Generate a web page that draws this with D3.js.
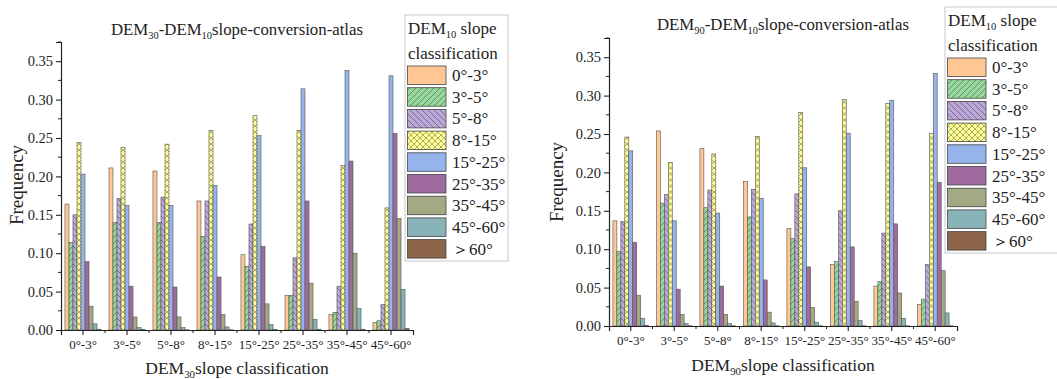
<!DOCTYPE html>
<html><head><meta charset="utf-8">
<script src="https://cdn.jsdelivr.net/npm/d3@7"></script>
<style>
body{margin:0;background:#fff;}
svg{display:block;font-family:"Liberation Serif","Times New Roman",serif;}
</style></head>
<body><svg id="c" width="1057" height="379"></svg>
<script>
const categories = ["0°-3°","3°-5°","5°-8°","8°-15°","15°-25°","25°-35°","35°-45°","45°-60°"];
const seriesNames = ["0°-3°","3°-5°","5°-8°","8°-15°","15°-25°","25°-35°","35°-45°","45°-60°","＞60°"];
const yTicks = [0,0.05,0.10,0.15,0.20,0.25,0.30,0.35];
// DEM30 -> DEM10 : rows = DEM30 class (category), cols = DEM10 class (series)
const dem30 = [
  [0.164,0.114,0.150,0.244,0.203,0.089,0.031,0.008,0.001],
  [0.211,0.140,0.171,0.238,0.162,0.057,0.017,0.003,0.0005],
  [0.207,0.140,0.173,0.242,0.162,0.056,0.017,0.003,0.0003],
  [0.168,0.122,0.168,0.260,0.188,0.069,0.020,0.004,0.0003],
  [0.098,0.083,0.138,0.279,0.253,0.109,0.034,0.007,0.0005],
  [0.045,0.045,0.094,0.260,0.314,0.168,0.061,0.014,0.001],
  [0.020,0.023,0.057,0.214,0.338,0.220,0.100,0.028,0.001],
  [0.010,0.012,0.033,0.159,0.331,0.256,0.145,0.053,0.002]
];
// DEM90 -> DEM10
const dem90 = [
  [0.137,0.097,0.136,0.246,0.228,0.109,0.040,0.010,0.0005],
  [0.254,0.160,0.171,0.213,0.137,0.048,0.015,0.003,0.0003],
  [0.231,0.154,0.177,0.224,0.147,0.052,0.015,0.003,0.0003],
  [0.188,0.142,0.178,0.247,0.166,0.060,0.018,0.004,0.0003],
  [0.127,0.114,0.172,0.278,0.206,0.077,0.024,0.005,0.0003],
  [0.080,0.084,0.150,0.295,0.251,0.103,0.032,0.007,0.0003],
  [0.052,0.058,0.121,0.290,0.294,0.133,0.043,0.010,0.0003],
  [0.028,0.035,0.080,0.251,0.329,0.187,0.072,0.017,0.0003]
];
const colors = ["#FFC794","#96D79B","#BBA8D8","#FFFF96","#96B4EB","#A06CA0","#A2A983","#88B3B8","#8C6447"];
const patterns = [null,"fwd","back","cross",null,null,null,null,null];

const svg = d3.select("#c");
const defs = svg.append("defs");
function makePattern(id, kind, color){
  const s = 6;
  const p = defs.append("pattern").attr("id",id).attr("patternUnits","userSpaceOnUse")
    .attr("width",s).attr("height",s);
  p.append("rect").attr("width",s).attr("height",s).attr("fill",color);
  if(kind==="fwd"){
    p.append("path").attr("d",`M0,${s} L${s},0 M${-s/2},${s/2} L${s/2},${-s/2} M${s/2},${s*1.5} L${s*1.5},${s/2}`).attr("stroke","#4f6f55").attr("stroke-width",0.7);
  } else if(kind==="back"){
    p.append("path").attr("d",`M0,0 L${s},${s} M${-s/2},${s/2} L${s/2},${s*1.5} M${s/2},${-s/2} L${s*1.5},${s/2}`).attr("stroke","#5e5478").attr("stroke-width",0.7);
  } else if(kind==="cross"){
    p.append("path").attr("d",`M0,0 L${s},${s} M0,${s} L${s},0`).attr("stroke","#8a8a50").attr("stroke-width",0.7);
  }
}
colors.forEach((c,i)=>{ if(patterns[i]) makePattern("pat"+i, patterns[i], c); });
const fillOf = i => patterns[i] ? `url(#pat${i})` : colors[i];

function subText(sel, parts, size){
  let prevSub=false;
  parts.forEach(([t,sub])=>{
    const ts = sel.append("tspan").text(t);
    if(sub) ts.attr("font-size",size*0.62).attr("dy",size*0.25);
    else if(prevSub) ts.attr("dy",-size*0.25);
    prevSub = sub;
  });
}

function chart(o){
  const g = svg.append("g");
  const x = d3.scaleBand().domain(categories).range([o.x0,o.x1]).padding(0);
  const xs = d3.scaleBand().domain(d3.range(9)).range([x.bandwidth()*0.09, x.bandwidth()*0.91]).padding(0);
  const y = d3.scaleLinear().domain([0,0.375]).range([o.y0,o.y1]);

  o.data.forEach((row,ci)=>{
    const gg = g.append("g").attr("transform",`translate(${x(categories[ci])},0)`);
    row.forEach((v,si)=>{
      gg.append("rect").attr("x",xs(si)).attr("width",xs.bandwidth())
        .attr("y",y(v)).attr("height",o.y0-y(v))
        .attr("fill",fillOf(si)).attr("stroke","#555").attr("stroke-width",0.6);
    });
  });

  const ya = g.append("g").attr("transform",`translate(${o.x0},0)`)
    .call(d3.axisLeft(y).tickValues(yTicks).tickFormat(d3.format(".2f")).tickSize(5).tickPadding(3));
  ya.attr("font-family",null);
  ya.select(".domain").attr("stroke","#222").attr("stroke-width",1.2);
  ya.selectAll(".tick line").attr("stroke","#222").attr("stroke-width",1.1);
  ya.selectAll("text").attr("font-size",14.5).attr("fill","#222");
  const minorY = yTicks.map(t=>t+0.025);
  ya.selectAll(".minor").data(minorY).enter().append("line")
    .attr("x1",-3).attr("x2",0).attr("y1",d=>y(d)).attr("y2",d=>y(d)).attr("stroke","#222").attr("stroke-width",1);

  const xa = g.append("g").attr("transform",`translate(0,${o.y0})`)
    .call(d3.axisBottom(x).tickSize(5).tickPadding(5));
  xa.attr("font-family",null);
  xa.select(".domain").attr("stroke","#222").attr("stroke-width",1.2);
  xa.selectAll(".tick line").attr("stroke","#222").attr("stroke-width",1.1);
  xa.selectAll("text").attr("font-size",13).attr("fill","#222");
  const bounds = categories.slice(1).map(c=>x(c));
  xa.selectAll(".minor").data(bounds).enter().append("line")
    .attr("x1",d=>d).attr("x2",d=>d).attr("y1",0).attr("y2",3).attr("stroke","#222").attr("stroke-width",1);

  const t = g.append("text").attr("x",o.titleX).attr("y",o.titleY).attr("text-anchor","middle")
    .attr("font-size",16.8).attr("fill","#222");
  subText(t, [["DEM",false],[o.res,true],["-DEM",false],["10",true],["slope-conversion-atlas",false]], 16.8);

  g.append("text").attr("transform",`translate(${o.ylabX},${o.ylabY}) rotate(-90)`)
    .attr("text-anchor","middle").attr("font-size",19).attr("fill","#222").text("Frequency");

  const xl = g.append("text").attr("x",o.xlabX).attr("y",o.xlabY).attr("text-anchor","middle")
    .attr("font-size",17.5).attr("fill","#222");
  subText(xl, [["DEM",false],[o.res,true],["slope classification",false]], 17.5);

  const L = g.append("g");
  L.append("rect").attr("x",o.lx).attr("y",o.ly).attr("width",o.lw).attr("height",o.lh)
    .attr("fill","#fff").attr("stroke","#c8c8c8").attr("stroke-width",1);
  const lt = L.append("text").attr("x",o.lx+3).attr("y",o.ly+19).attr("font-size",17).attr("fill","#222");
  subText(lt, [["DEM",false],["10",true],[" slope",false]], 17);
  L.append("text").attr("x",o.lx+3).attr("y",o.ly+44).attr("font-size",17).attr("fill","#222").text("classification");
  seriesNames.forEach((s,i)=>{
    const yy = o.ly + 51 + i*21.7;
    L.append("rect").attr("x",o.lx+2.5).attr("y",yy).attr("width",38.5).attr("height",18.5)
      .attr("fill",fillOf(i)).attr("stroke","#444").attr("stroke-width",0.8);
    L.append("text").attr("x",o.lx+47).attr("y",yy+15).attr("font-size",17).attr("fill","#222").text(s);
  });
}

chart({data:dem30,res:"30",x0:61,x1:413,y0:330,y1:42,titleX:237,titleY:35,ylabX:23,ylabY:185,
  xlabX:237,xlabY:374,lx:405,ly:15,lw:103,lh:246});
chart({data:dem90,res:"90",x0:609,x1:957,y0:326,y1:38,titleX:783,titleY:30,ylabX:563,ylabY:182,
  xlabX:783,xlabY:371,lx:945,ly:7,lw:130,lh:246});
</script></body></html>
